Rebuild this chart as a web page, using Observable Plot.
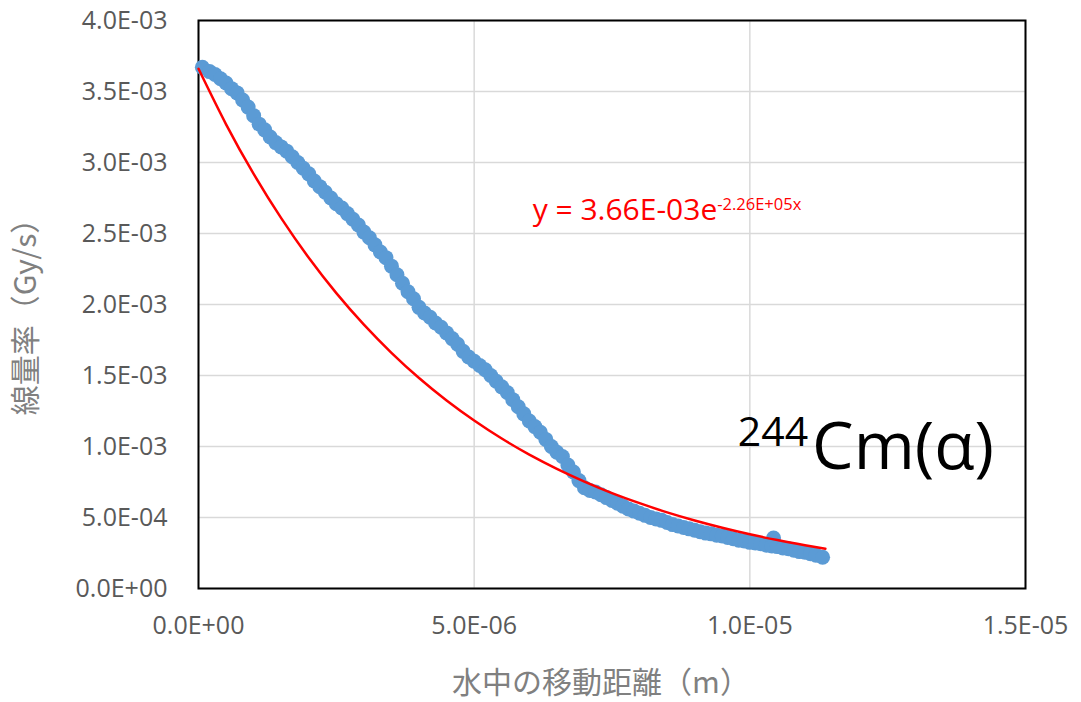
<!DOCTYPE html>
<html><head><meta charset="utf-8">
<script src="https://cdn.jsdelivr.net/npm/d3@7"></script>
<script src="https://cdn.jsdelivr.net/npm/@observablehq/plot@0.6"></script>
<style>body{margin:0;background:#fff;} #chart svg{display:block;}</style>
</head><body><div id="chart"></div>
<script>
// Measured data: distance in water (µm) and dose rate (mGy/s)
const distUm = [0.07,0.2,0.3,0.4,0.5,0.6,0.7,0.8,0.9,1.0,1.1,1.2,1.3,1.4,1.5,1.6,1.7,1.8,1.9,2.0,
  2.1,2.2,2.3,2.4,2.5,2.6,2.7,2.8,2.9,3.0,3.1,3.2,3.3,3.4,3.5,3.6,3.7,3.8,3.9,4.0,
  4.1,4.2,4.3,4.4,4.5,4.6,4.7,4.8,4.9,5.0,5.1,5.2,5.3,5.4,5.5,5.6,5.7,5.8,5.9,6.0,
  6.1,6.2,6.3,6.4,6.5,6.6,6.7,6.8,6.9,7.0,7.1,7.2,7.3,7.4,7.5,7.6,7.7,7.8,7.9,8.0,
  8.1,8.2,8.3,8.4,8.5,8.6,8.7,8.8,8.9,9.0,9.1,9.2,9.3,9.4,9.5,9.6,9.7,9.8,9.9,10.0,
  10.1,10.2,10.3,10.4,10.43,10.5,10.6,10.7,10.8,10.9,11.0,11.1,11.2,11.32];
const doseMGy = [3.67,3.64,3.62,3.59,3.56,3.52,3.49,3.44,3.39,3.33,3.27,3.23,3.18,3.14,3.11,3.08,3.04,3.00,2.96,2.92,
  2.87,2.83,2.79,2.75,2.71,2.68,2.64,2.60,2.56,2.51,2.47,2.42,2.37,2.33,2.27,2.21,2.15,2.09,2.04,1.98,
  1.94,1.91,1.87,1.84,1.80,1.76,1.72,1.67,1.63,1.60,1.57,1.54,1.50,1.46,1.42,1.38,1.33,1.28,1.23,1.18,
  1.14,1.10,1.05,1.00,0.96,0.93,0.87,0.82,0.76,0.71,0.69,0.68,0.66,0.64,0.62,0.60,0.58,0.56,0.545,0.53,
  0.515,0.50,0.49,0.48,0.465,0.45,0.44,0.43,0.42,0.41,0.40,0.39,0.385,0.375,0.37,0.36,0.35,0.34,0.335,0.325,
  0.32,0.315,0.305,0.30,0.355,0.295,0.285,0.28,0.27,0.26,0.255,0.245,0.235,0.22];

// Exponential trendline (µm, mGy/s)
const fitDistUm = [0,0.5,1,1.5,2,2.5,3,3.5,4,4.5,5,5.5,6,6.5,7,7.5,8,8.5,9,9.5,10,10.5,11,11.37];
const fitDoseMGy = [3.66,3.269,2.920,2.608,2.329,2.080,1.858,1.660,1.482,1.324,1.183,1.056,0.943,0.843,0.753,0.672,0.601,0.536,0.479,0.428,0.382,0.341,0.305,0.280];

const xTicks = [0, 5e-6, 1e-5, 1.5e-5];
const yTicks = [0, 5e-4, 1e-3, 1.5e-3, 2e-3, 2.5e-3, 3e-3, 3.5e-3, 4e-3];
const xTitle = "水中の移動距離（m）";
const yTitle = "線量率（Gy/s）";
const eqMain = "y = 3.66E-03e";
const eqSup = "-2.26E+05x";
const isoSup = "244";
const isoMain = "Cm(α)";

const points = distUm.map((d, i) => ({x: d * 1e-6, y: doseMGy[i] * 1e-3}));
const fit = fitDistUm.map((d, i) => ({x: d * 1e-6, y: fitDoseMGy[i] * 1e-3}));

function sci(v) {
  if (v === 0) return "0.0E+00";
  const e = Math.floor(Math.log10(Math.abs(v)) + 1e-9);
  const m = v / Math.pow(10, e);
  return m.toFixed(1) + "E" + (e < 0 ? "-" : "+") + String(Math.abs(e)).padStart(2, "0");
}

const font = "'Open Sans', 'Noto Sans CJK JP', sans-serif";
const cjk = "'Noto Sans CJK JP', sans-serif";
const plot = Plot.plot({
  width: 1081, height: 702,
  marginLeft: 198, marginRight: 56, marginTop: 20, marginBottom: 114,
  style: {fontFamily: font, background: "#fff"},
  x: {domain: [0, 1.5e-5]},
  y: {domain: [0, 4e-3]},
  marks: [
    Plot.gridY(yTicks, {stroke: "#d9d9d9", strokeOpacity: 1, strokeWidth: 1.5}),
    Plot.gridX(xTicks, {stroke: "#d9d9d9", strokeOpacity: 1, strokeWidth: 1.5}),
    Plot.axisY(yTicks, {tickSize: 0, tickPadding: 31, tickFormat: sci, fontSize: 25, color: "#595959", label: null}),
    Plot.axisX(xTicks, {tickSize: 0, tickPadding: 28, tickFormat: sci, fontSize: 25, color: "#595959", label: null}),
    Plot.frame({stroke: "#000", strokeWidth: 2}),
    Plot.dot(points, {x: "x", y: "y", r: 7.5, fill: "#5B9BD5", stroke: null}),
    Plot.line(fit, {x: "x", y: "y", stroke: "#ff0000", strokeWidth: 2.5, curve: "natural"}),
    Plot.text([xTitle], {frameAnchor: "bottom", lineAnchor: "middle", textAnchor: "middle", dx: -11, dy: 95, fontSize: 30, fill: "#808080", fontFamily: cjk}),
    Plot.text([yTitle], {frameAnchor: "left", lineAnchor: "middle", textAnchor: "middle", dx: -172, dy: 5, rotate: -90, fontSize: 30, fill: "#808080", fontFamily: cjk})
  ]
});
document.getElementById("chart").appendChild(plot);

const svg = d3.select(plot);
const X = plot.scale("x"), Y = plot.scale("y");
const eq = svg.append("text")
  .attr("x", X.apply(6.07e-6)).attr("y", Y.apply(2.59e-3))
  .attr("text-anchor", "start")
  .attr("fill", "#ff0000").attr("font-family", font).attr("font-size", 30);
eq.append("tspan").text(eqMain);
eq.append("tspan").attr("font-size", 16.5).attr("dy", -10).text(eqSup);

const iso = svg.append("text")
  .attr("x", X.apply(9.79e-6)).attr("y", Y.apply(1.0e-3))
  .attr("text-anchor", "start")
  .attr("fill", "#000").attr("font-family", font).attr("font-size", 41);
iso.append("tspan").text(isoSup);
iso.append("tspan").attr("font-size", 66).attr("dy", 23).attr("dx", 4).text(isoMain);
</script>
</body></html>
